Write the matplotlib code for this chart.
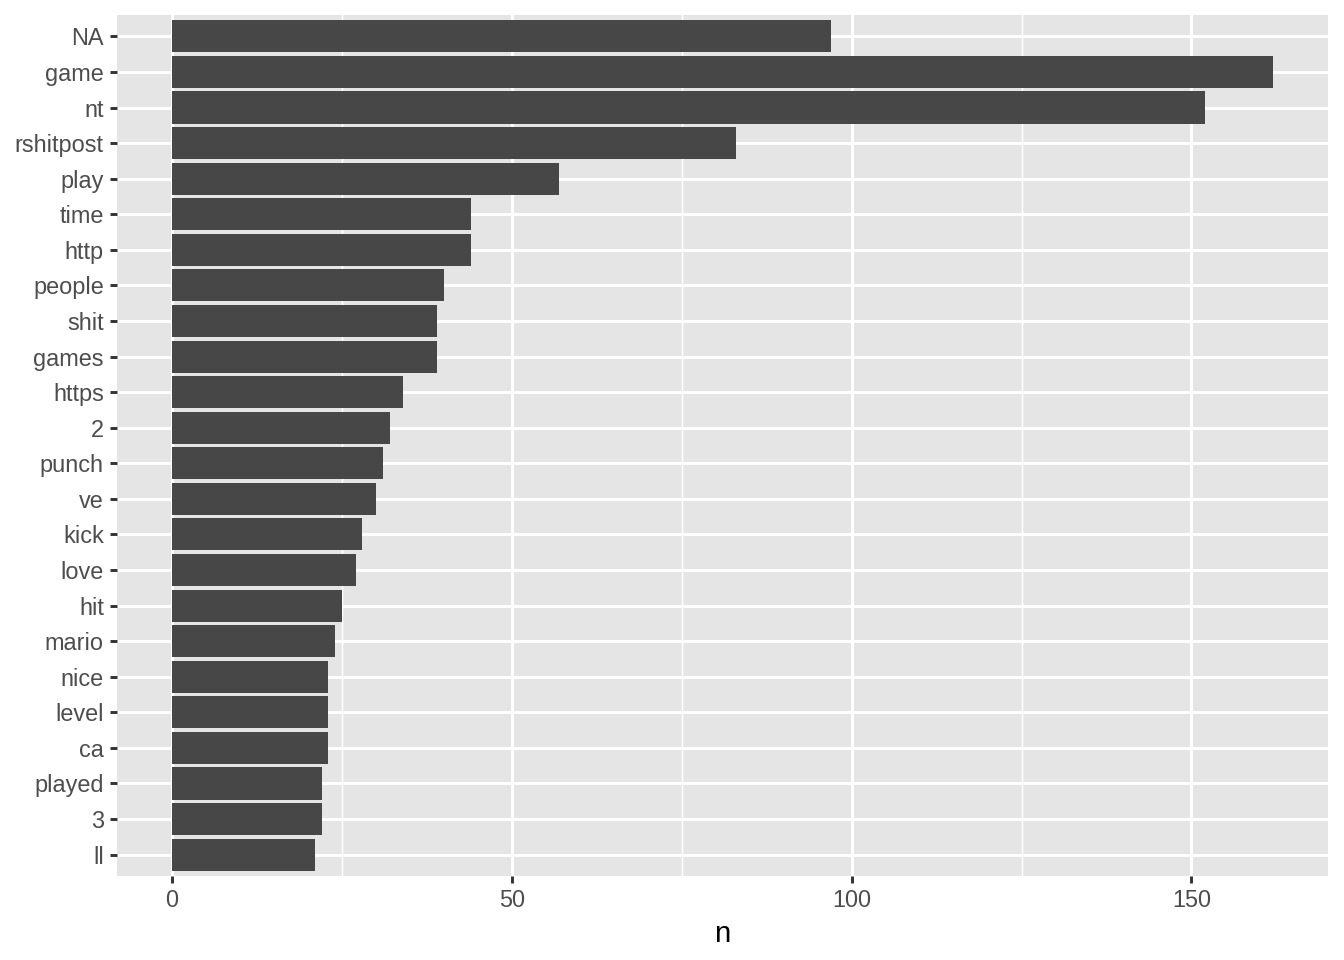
import matplotlib
matplotlib.use("Agg")
import matplotlib.pyplot as plt
from matplotlib.ticker import MultipleLocator

# word counts, top to bottom as shown in the chart
words = ["NA", "game", "nt", "rshitpost", "play", "time", "http", "people",
         "shit", "games", "https", "2", "punch", "ve", "kick", "love", "hit",
         "mario", "nice", "level", "ca", "played", "3", "ll"]
counts = [97, 162, 152, 83, 57, 44, 44, 40, 39, 39, 34, 32, 31, 30, 28, 27,
          25, 24, 23, 23, 23, 22, 22, 21]

plt.rcParams["font.family"] = ["Liberation Sans", "DejaVu Sans"]

fig = plt.figure(figsize=(7, 5), dpi=192)
ax = fig.add_axes([117 / 1344, 1 - 876 / 960, (1328 - 117) / 1344, (876 - 15) / 960])
ax.set_facecolor("#E5E5E5")

pos = list(range(len(words)))[::-1]
ax.barh(pos, counts, height=0.9, color="#474747", zorder=3)

xmax = max(counts)
ax.set_xlim(-0.05 * xmax, 1.05 * xmax)
ax.set_ylim(-0.6, len(words) - 0.4)

ax.xaxis.set_major_locator(MultipleLocator(50))
ax.xaxis.set_minor_locator(MultipleLocator(25))
ax.set_yticks(pos)
ax.set_yticklabels(words)

ax.grid(which="major", color="white", linewidth=1.1, zorder=0)
ax.grid(which="minor", axis="x", color="white", linewidth=0.55, zorder=0)
ax.set_axisbelow(True)

for s in ax.spines.values():
    s.set_visible(False)

ax.tick_params(axis="both", which="major", length=2.75, width=1.1, color="#333333",
               labelsize=8.8, labelcolor="#4D4D4D", pad=2.2)
ax.tick_params(axis="x", which="minor", length=0)

ax.set_xlabel("n", fontsize=11, color="black", labelpad=2.75)

fig.savefig("out.png", dpi=192)
